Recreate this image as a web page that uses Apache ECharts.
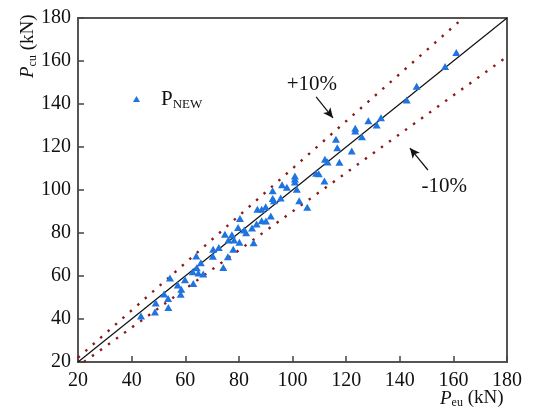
<!DOCTYPE html>
<html>
<head>
<meta charset="utf-8">
<script src="https://cdn.jsdelivr.net/npm/echarts@6/dist/echarts.min.js"></script>
<style>
html, body { margin: 0; padding: 0; background: #fff; }
#chart { width: 534px; height: 412px; }
</style>
</head>
<body>
<div id="chart"></div>
<script>
// Axis range and tick step (kN)
const axisMin = 20;
const axisMax = 180;
const tickStep = 20;

// Measured capacity P_eu (x) and predicted capacity P_cu (y) for the P_NEW model
const pEu = [43.5, 48.7, 49.0, 53.7, 53.6, 52.1, 54.3, 57.2, 58.5, 58.3,
             59.9, 63.0, 62.8, 64.9, 66.7, 64.3, 65.8, 64.1, 70.3, 74.2,
             75.9, 70.4, 72.5, 77.9, 76.1, 78.2, 80.2, 85.5, 74.8, 77.4,
             79.7, 80.4, 82.0, 82.7, 84.9, 86.6, 88.5, 90.1, 86.9, 88.5,
             90.0, 91.9, 92.6, 92.6, 93.1, 95.6, 96.1, 97.9, 100.9, 100.9,
             100.9, 101.6, 102.5, 105.5, 108.8, 109.8, 111.9, 112.1, 113.1, 117.5,
             116.2, 116.7, 122.1, 123.4, 123.4, 125.9, 128.3, 131.4, 133.0, 142.6,
             146.3, 156.9, 161.1];
const pCu = [41.4, 43.2, 47.5, 45.3, 49.5, 51.6, 59.1, 55.8, 53.8, 51.5,
             58.3, 56.5, 62.0, 61.4, 60.9, 63.8, 66.2, 69.3, 69.2, 64.0,
             69.0, 72.4, 73.2, 72.4, 76.7, 76.7, 75.7, 75.5, 79.4, 79.2,
             82.6, 86.8, 81.4, 80.1, 82.3, 84.2, 85.7, 85.6, 91.0, 91.0,
             92.2, 87.9, 99.7, 96.1, 95.0, 96.3, 102.4, 101.3, 106.5, 105.1,
             103.7, 100.3, 95.0, 92.0, 107.8, 107.6, 104.2, 114.3, 113.0, 112.9,
             123.6, 119.7, 118.1, 128.7, 127.4, 124.8, 132.2, 130.2, 133.6, 141.9,
             148.2, 157.4, 164.0];

// Error band ratios around the 1:1 line
const bandRatios = [1.1, 0.9];
const bandLabels = ['+10%', '-10%'];

// Label anchor and arrow (start, end) positions, in kN
const bandLabelPos = [[107.2, 149.3], [156.6, 101.5]];
const bandArrows = [
  [[108.8, 143.3], [115.1, 133.5]],
  [[150.5, 109.3], [143.8, 119.5]]
];

const serif = 'Liberation Serif';

function ratioLine(r) {
  // clip y = r * x to the square plotting range
  const x0 = Math.max(axisMin, axisMin / r);
  const x1 = Math.min(axisMax, axisMax / r);
  return [[x0, r * x0], [x1, r * x1]];
}

const points = pEu.map((x, i) => [x, pCu[i]]);

const axisCommon = {
  type: 'value',
  min: axisMin,
  max: axisMax,
  interval: tickStep,
  axisLine: { show: true, lineStyle: { color: '#555', width: 2 } },
  axisTick: { show: true, inside: true, length: 6, lineStyle: { color: '#444', width: 1.5 } },
  splitLine: { show: false },
  axisLabel: { color: '#111', fontFamily: serif, fontSize: 20 }
};

const chart = echarts.init(document.getElementById('chart'), null, { renderer: 'canvas' });

chart.setOption({
  animation: false,
  backgroundColor: '#fff',
  grid: {
    left: 78, right: 27, top: 18, bottom: 50,
    show: true, borderColor: '#555', borderWidth: 2, backgroundColor: 'transparent'
  },
  xAxis: Object.assign({}, axisCommon, {
    axisLabel: Object.assign({}, axisCommon.axisLabel, { margin: 9 })
  }),
  yAxis: Object.assign({}, axisCommon, {
    axisLabel: Object.assign({}, axisCommon.axisLabel, { margin: 7 })
  }),
  legend: {
    left: 128, top: 83,
    itemWidth: 7, itemHeight: 6,
    data: [{ name: 'P_NEW', icon: 'triangle' }],
    formatter: () => '{p|P}{s|NEW}',
    textStyle: {
      padding: [0, 0, 0, 16],
      rich: {
        p: { fontFamily: serif, fontSize: 21, color: '#111', lineHeight: 24 },
        s: { fontFamily: serif, fontSize: 13, color: '#111', lineHeight: 14, verticalAlign: 'bottom', padding: [10, 0, 0, 0] }
      }
    }
  },
  graphic: [
    {
      type: 'text', left: 440, top: 388,
      style: {
        text: '{i|P}{s|eu}{n| (kN)}',
        rich: {
          i: { fontFamily: serif, fontStyle: 'italic', fontSize: 19, fill: '#111', lineHeight: 20 },
          s: { fontFamily: serif, fontSize: 12, fill: '#111', lineHeight: 12, padding: [9, 0, 0, 0] },
          n: { fontFamily: serif, fontSize: 19, fill: '#111', lineHeight: 20 }
        }
      }
    },
    {
      type: 'text', x: 18, y: 78, rotation: Math.PI / 2,
      style: {
        text: '{i|P}{s|cu}{n| (kN)}',
        rich: {
          i: { fontFamily: serif, fontStyle: 'italic', fontSize: 19, fill: '#111', lineHeight: 20 },
          s: { fontFamily: serif, fontSize: 12, fill: '#111', lineHeight: 12, padding: [9, 0, 0, 0] },
          n: { fontFamily: serif, fontSize: 19, fill: '#111', lineHeight: 20 }
        }
      }
    }
  ],
  series: [
    {
      name: '1:1',
      type: 'line',
      data: [[axisMin, axisMin], [axisMax, axisMax]],
      symbol: 'none',
      lineStyle: { color: '#111', width: 1.2 },
      z: 2
    },
    ...bandRatios.map((r, k) => ({
      name: bandLabels[k],
      type: 'line',
      data: ratioLine(r),
      symbol: 'none',
      lineStyle: { color: '#8b1a1a', width: 2.4, type: [2.4, 7.5] },
      z: 2,
      markPoint: {
        symbol: 'circle', symbolSize: 0,
        label: { show: true, position: 'inside', formatter: bandLabels[k], fontFamily: serif, fontSize: 21, color: '#111' },
        data: [{ coord: bandLabelPos[k] }]
      },
      markLine: {
        silent: true,
        symbol: ['none', 'arrow'],
        symbolSize: [7, 10],
        label: { show: false },
        lineStyle: { color: '#111', width: 1.2, type: 'solid' },
        data: [[{ coord: bandArrows[k][0] }, { coord: bandArrows[k][1] }]]
      }
    })),
    {
      name: 'P_NEW',
      type: 'scatter',
      data: points,
      symbol: 'triangle',
      symbolSize: [8, 7],
      itemStyle: { color: '#1f74e0', opacity: 1 },
      z: 5
    }
  ]
});
</script>
</body>
</html>
